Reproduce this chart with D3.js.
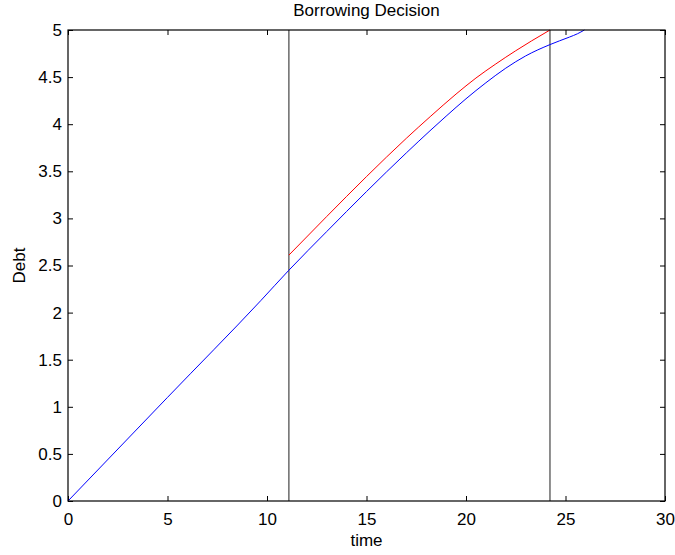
<!DOCTYPE html>
<html>
<head>
<meta charset="utf-8">
<script src="https://cdn.jsdelivr.net/npm/d3@7"></script>
<style>
	body { margin: 0; background: #fff; }
	text { font-family: "Liberation Sans", Arial, sans-serif; fill: #000; }
</style>
</head>
<body>
<svg id="chart" width="675" height="555"></svg>
<script>
// values
var blue_t = [0, 5, 9.7, 11.1, 13, 15, 17, 18.19, 19, 20, 21, 22, 23, 24.22, 24.7, 25.2, 25.6, 25.95];
var blue_d = [0, 1.10, 2.13, 2.45, 2.86, 3.285, 3.695, 3.93, 4.085, 4.27, 4.44, 4.595, 4.725, 4.845, 4.885, 4.925, 4.96, 5.0];

var red_t = [11.1, 13, 15, 17, 18.2, 19.5, 20.5, 21.5, 22.5, 23.3, 24.22];
var red_d = [2.61, 3.02, 3.444, 3.85, 4.08, 4.32, 4.49, 4.64, 4.78, 4.885, 5.0];

var decision_times = [11.1, 24.22];

var x_ticks = [0, 5, 10, 15, 20, 25, 30];
var y_ticks = [0, 0.5, 1, 1.5, 2, 2.5, 3, 3.5, 4, 4.5, 5];

var margin = {left: 68, right: 10, top: 30, bottom: 54};
var width = 675, height = 555;
var font_size = 17;

var svg = d3.select("#chart");

var x = d3.scaleLinear().domain([0, 30]).range([margin.left, width - margin.right]);
var y = d3.scaleLinear().domain([0, 5]).range([height - margin.bottom, margin.top]);

var x0 = x(0), x1 = x(30), y0 = y(0), y1 = y(5);

var style_labels = function(g) {
	g.select(".domain").remove();
	g.selectAll("text")
		.attr("font-size", font_size)
		.attr("font-family", "Liberation Sans, Arial, sans-serif");
};

//tick marks on all four sides, pointing inward
svg.append("g")
	.attr("transform", "translate(0," + y0 + ")")
	.call(d3.axisBottom(x).tickValues(x_ticks).tickSizeInner(-5).tickSizeOuter(0).tickPadding(12).tickFormat(d3.format("d")))
	.call(style_labels);

svg.append("g")
	.attr("transform", "translate(0," + y1 + ")")
	.call(d3.axisTop(x).tickValues(x_ticks).tickSizeInner(-5).tickSizeOuter(0).tickFormat(""))
	.call(style_labels);

svg.append("g")
	.attr("transform", "translate(" + x0 + ",0)")
	.call(d3.axisLeft(y).tickValues(y_ticks).tickSizeInner(-5).tickSizeOuter(0).tickPadding(6).tickFormat(d3.format("")))
	.call(style_labels);

svg.append("g")
	.attr("transform", "translate(" + x1 + ",0)")
	.call(d3.axisRight(y).tickValues(y_ticks).tickSizeInner(-5).tickSizeOuter(0).tickFormat(""))
	.call(style_labels);

//vertical decision lines
svg.selectAll(".decision")
	.data(decision_times)
	.enter()
	.append("line")
	.attr("class", "decision")
	.attr("x1", function(d) { return x(d); })
	.attr("x2", function(d) { return x(d); })
	.attr("y1", y0)
	.attr("y2", y1)
	.attr("stroke", "#444")
	.attr("stroke-width", 1.2);

var line = d3.line()
	.x(function(d) { return x(d[0]); })
	.y(function(d) { return y(d[1]); })
	.curve(d3.curveMonotoneX);

svg.append("path")
	.datum(d3.zip(blue_t, blue_d))
	.attr("d", line)
	.attr("fill", "none")
	.attr("stroke", "#0000ff")
	.attr("stroke-width", 1);

svg.append("path")
	.datum(d3.zip(red_t, red_d))
	.attr("d", line)
	.attr("fill", "none")
	.attr("stroke", "#ff0000")
	.attr("stroke-width", 1);

//box
svg.append("rect")
	.attr("x", x0)
	.attr("y", y1)
	.attr("width", x1 - x0)
	.attr("height", y0 - y1)
	.attr("fill", "none")
	.attr("stroke", "#000")
	.attr("stroke-width", 1.2);

svg.append("text")
	.attr("x", (x0 + x1) / 2)
	.attr("y", 16)
	.attr("text-anchor", "middle")
	.attr("font-size", font_size)
	.text("Borrowing Decision");

svg.append("text")
	.attr("x", (x0 + x1) / 2)
	.attr("y", 546)
	.attr("text-anchor", "middle")
	.attr("font-size", font_size)
	.text("time");

svg.append("text")
	.attr("transform", "translate(25," + ((y0 + y1) / 2) + ") rotate(-90)")
	.attr("text-anchor", "middle")
	.attr("font-size", font_size)
	.text("Debt");
</script>
</body>
</html>
